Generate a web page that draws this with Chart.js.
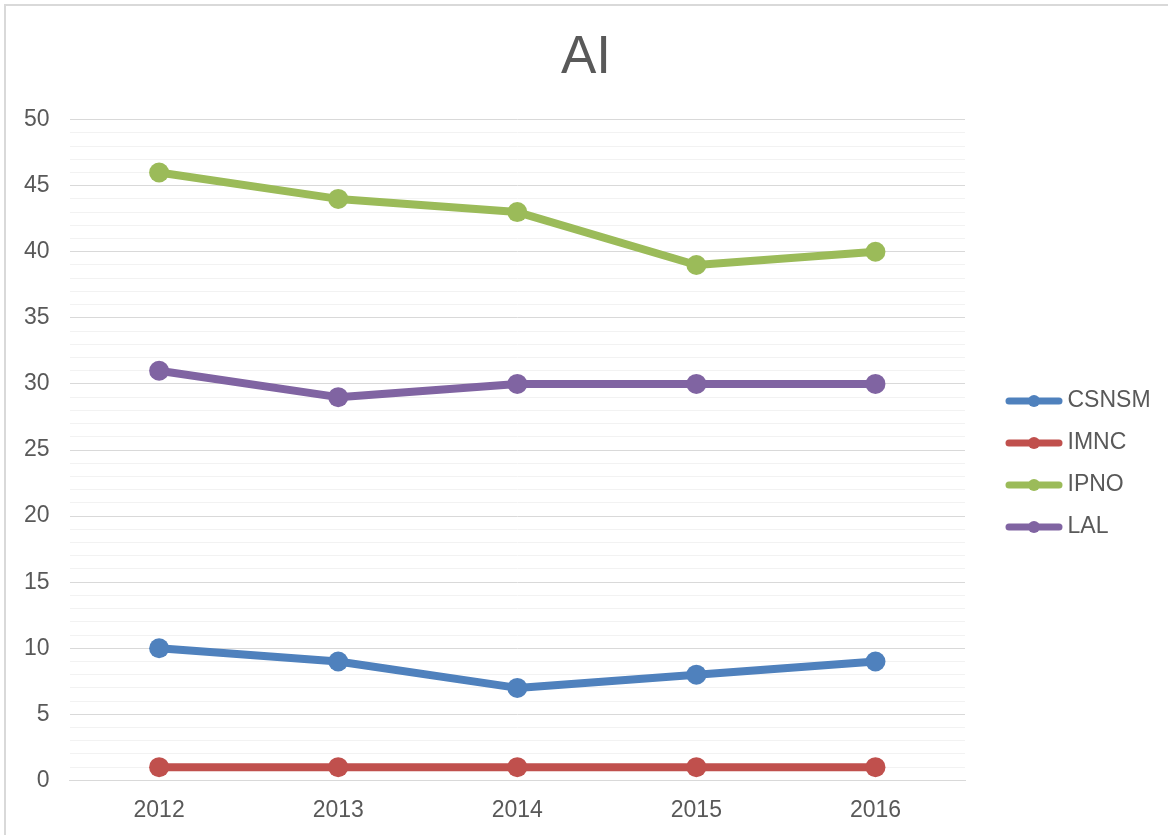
<!DOCTYPE html>
<html>
<head>
<meta charset="utf-8">
<script src="https://cdn.jsdelivr.net/npm/chart.js@4"></script>
<style>
    html, body {margin: 0; padding: 0; background: #fff;}
    #wrap {position: relative; width: 1168px; height: 835px; overflow: hidden;}
    #frame {position: absolute; left: 4px; top: 4px; width: 1200px; height: 900px; border-top: 2px solid #d9d9d9; border-left: 2px solid #d9d9d9;}
    canvas {position: absolute; left: 0; top: 0;}
</style>
</head>
<body>
<div id="wrap">
    <div id="frame"></div>
    <canvas id="graph" width="1168" height="835"></canvas>
</div>
<script>
const years = ["2012", "2013", "2014", "2015", "2016"];
const seriesNames = ["CSNSM", "IMNC", "IPNO", "LAL"];
const csnsm = [10, 9, 7, 8, 9];
const imnc = [1, 1, 1, 1, 1];
const ipno = [46, 44, 43, 39, 40];
const lal = [31, 29, 30, 30, 30];
const colors = ["#4F81BD", "#C0504D", "#9BBB59", "#8064A2"];

const FONT = "'Liberation Sans', Arial, sans-serif";
const TEXT = "#595959";

// legend marker: thick line with a dot in the middle
function legendIcon(color) {
    const c = document.createElement("canvas");
    c.width = 58;
    c.height = 14;
    const g = c.getContext("2d");
    g.strokeStyle = color;
    g.lineWidth = 7;
    g.lineCap = "round";
    g.beginPath();
    g.moveTo(4, 7);
    g.lineTo(54, 7);
    g.stroke();
    g.fillStyle = color;
    g.beginPath();
    g.arc(29, 7, 6, 0, Math.PI * 2);
    g.fill();
    return c;
}

const values = [csnsm, imnc, ipno, lal];
const datasets = seriesNames.map((name, i) => ({
    label: name,
    data: values[i],
    borderColor: colors[i],
    backgroundColor: colors[i],
    borderWidth: 8,
    borderCapStyle: "round",
    borderJoinStyle: "round",
    pointRadius: 10,
    pointHoverRadius: 10,
    pointBorderWidth: 0,
    pointBackgroundColor: colors[i],
    pointStyle: legendIcon(colors[i]),
    tension: 0
}));

const legendWidth = 203;
const legendItemsLeft = 1012;
const legendDrop = 48;

const ctx = document.getElementById("graph").getContext("2d");
new Chart(ctx, {
    type: "line",
    data: {labels: years, datasets: datasets},
    plugins: [{
        id: "legendBox",
        beforeLayout(chart) {
            const lg = chart.legend;
            if (lg && !lg._wrapped) {
                const fit = lg.fit;
                lg.fit = function () {
                    fit.call(this);
                    this.width = legendWidth;
                };
                lg._wrapped = true;
            }
        },
        afterLayout(chart) {
            const lg = chart.legend;
            const pad = lg.options.labels.padding;
            const w = lg.right - lg.left;
            lg.left = legendItemsLeft - pad;
            lg.right = lg.left + w;
            lg.top += legendDrop;
            lg.bottom += legendDrop;
        },
        // draw round points (pointStyle holds the legend icon)
        beforeDatasetsDraw(chart) {
            chart.data.datasets.forEach((ds, i) => {
                chart.getDatasetMeta(i).data.forEach((pt) => {
                    pt.options.pointStyle = "circle";
                });
            });
        }
    }],
    options: {
        responsive: false,
        animation: false,
        layout: {padding: {left: 4, right: 0, top: 0, bottom: 3}},
        plugins: {
            title: {
                display: true,
                text: "AI",
                color: TEXT,
                font: {family: FONT, size: 53, weight: "normal"},
                padding: {top: 27, bottom: 29}
            },
            legend: {
                position: "right",
                labels: {
                    usePointStyle: true,
                    pointStyleWidth: 44,
                    color: TEXT,
                    font: {family: FONT, size: 23},
                    padding: 19
                }
            },
            tooltip: {enabled: false}
        },
        scales: {
            x: {
                offset: true,
                grid: {display: false},
                border: {color: "#d9d9d9", width: 1},
                ticks: {color: TEXT, font: {family: FONT, size: 23}, padding: 8}
            },
            y: {
                min: 0,
                max: 50,
                border: {display: false},
                grid: {
                    color: (c) => (c.tick && c.tick.value % 5 === 0 ? "#d9d9d9" : "#f2f2f2"),
                    lineWidth: 1,
                    drawTicks: false
                },
                ticks: {
                    stepSize: 1,
                    autoSkip: false,
                    color: TEXT,
                    font: {family: FONT, size: 23},
                    padding: 20,
                    callback: (v) => (v % 5 === 0 ? v : "")
                }
            }
        }
    }
});
</script>
</body>
</html>
